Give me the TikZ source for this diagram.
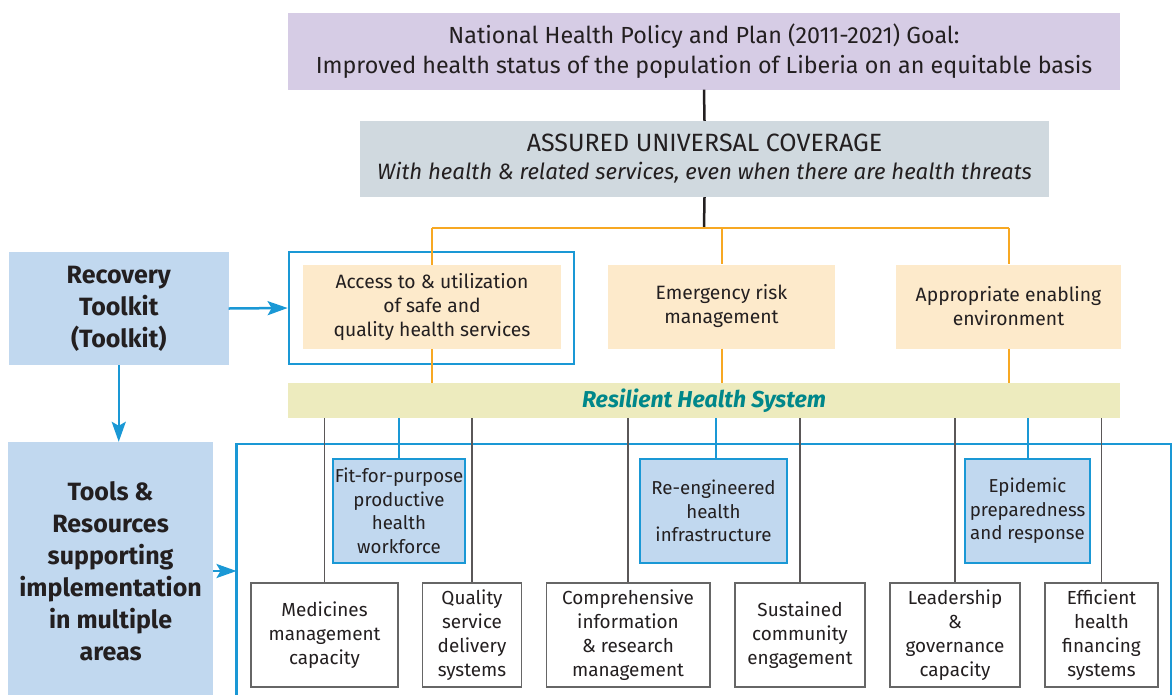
\documentclass[tikz,border=0pt]{standalone}
\usepackage{fontspec}
\setmainfont{Fira Sans}
\usepackage{tikz}
\usetikzlibrary{arrows.meta}
\definecolor{goalpurple}{HTML}{D6CCE5}
\definecolor{covergray}{HTML}{D0D9DF}
\definecolor{areaorange}{HTML}{FDEACB}
\definecolor{barolive}{HTML}{EDEBBE}
\definecolor{toolblue}{HTML}{C1D8EF}
\definecolor{lineblue}{HTML}{1A98D5}
\definecolor{lineorange}{HTML}{F7A823}
\definecolor{resteal}{HTML}{00878A}
\definecolor{inktext}{HTML}{231F20}
\definecolor{boxgray}{HTML}{666666}
\tikzset{
  base/.style={inner sep=0pt, align=center, text=inktext},
  goalbox/.style={base, fill=goalpurple, minimum width=832pt, minimum height=77pt, font=\fontsize{23.3}{30}\selectfont},
  coverbox/.style={base, fill=covergray, minimum width=689pt, minimum height=76pt, font=\fontsize{22.2}{28}\selectfont},
  areabox/.style={base, fill=areaorange, minimum height=84pt, font=\fontsize{19.3}{24}\selectfont},
  resbar/.style={base, fill=barolive, minimum width=832pt, minimum height=35pt, text=resteal, font=\fontsize{23}{24}\selectfont\bfseries\itshape},
  toolbox/.style={base, fill=toolblue, font=\fontsize{25}{32}\selectfont\bfseries},
  pillarbox/.style={base, fill=toolblue, draw=lineblue, line width=1.5pt, minimum height=104pt, font=\fontsize{18.7}{23.5}\selectfont},
  whitebox/.style={base, fill=white, draw=boxgray, line width=1.5pt, minimum height=104pt, font=\fontsize{18.9}{24}\selectfont},
  blackline/.style={draw=inktext, line width=2.5pt},
  orangeline/.style={draw=lineorange, line width=2pt},
  grayline/.style={draw=inktext!75, line width=1.7pt},
  blueline/.style={draw=lineblue, line width=2pt},
  bluearrow/.style={draw=lineblue, line width=2.5pt, -{Stealth[length=20pt,width=14pt,inset=4pt]}},
  blueframe/.style={draw=lineblue, line width=2.7pt}
}
\begin{document}
\begin{tikzpicture}[x=1pt,y=-1pt]
  \useasboundingbox (0,0) rectangle (1172,694);
  \clip (0,0) rectangle (1172,694);

  % goal and coverage
  \node[goalbox] (goal) at (704,51) {National Health Policy and Plan (2011-2021) Goal:\\Improved health status of the population of Liberia on an equitable basis};
  \node[coverbox] (cover) at (704.5,159) {{\fontsize{25}{28}\selectfont ASSURED UNIVERSAL COVERAGE}\\\textit{With health \& related services, even when there are health threats}};

  % three areas
  \node[areabox, minimum width=258pt] (access) at (432,307) {Access to \& utilization\\of safe and\\quality health services};
  \node[draw=lineblue, line width=2.7pt, minimum width=285pt, minimum height=112pt, inner sep=0pt] (accframe) at (431.5,308) {};
  \node[areabox, minimum width=227pt] (emerg) at (721.5,306.5) {Emergency risk\\management};
  \node[areabox, minimum width=225pt] (enabl) at (1008.5,306.5) {Appropriate enabling\\environment};
  \node[resbar] (resil) at (704,400.5) {Resilient Health System};

  \coordinate (junc) at (704,228);
  \draw[blackline] (goal.south) -- (cover.north);
  \draw[blackline] (cover.south) -- (junc);
  \draw[orangeline] (access.north |- junc) -- (enabl.north |- junc);
  \foreach \a in {access,emerg,enabl}{
    \draw[orangeline] (\a.north |- junc) -- (\a.north);
    \draw[orangeline] (\a.south) -- (\a.south |- resil.north);
  }

  % left side
  \node[toolbox, minimum width=219.5pt, minimum height=113pt] (recov) at (118.75,308.5) {Recovery\\Toolkit\\(Toolkit)};
  \node[toolbox, minimum width=204.5pt, minimum height=258pt] (tools) at (110.6,571) {Tools \&\\Resources\\supporting\\implementation\\in multiple\\areas};

  % big frame
  \coordinate (frtl) at (236.5,444);
  \draw[blueframe] (236.5,700) -- (frtl) -- (1171,444) -- (1171,700);

  \draw[bluearrow] (recov.east) -- (accframe.west);
  \draw[bluearrow] (recov.south) -- (recov.south |- tools.north);
  \draw[bluearrow] (tools.east) -- (tools.east -| frtl);

  % building blocks
  \node[pillarbox, minimum width=132pt] (workf) at (399,511) {Fit-for-purpose\\productive\\health\\workforce};
  \node[pillarbox, minimum width=147pt] (infra) at (713.5,511) {Re-engineered\\health\\infrastructure};
  \node[pillarbox, minimum width=125pt] (epid) at (1027.5,511) {Epidemic\\preparedness\\and response};

  \node[whitebox, minimum width=147pt] (medic) at (324.5,635) {Medicines\\management\\capacity};
  \node[whitebox, minimum width=98.6pt] (qual) at (472,635) {Quality\\service\\delivery\\systems};
  \node[whitebox, minimum width=163.5pt] (info) at (628,635) {Comprehensive\\information\\\& research\\management};
  \node[whitebox, minimum width=130pt] (comm) at (800,635) {Sustained\\community\\engagement};
  \node[whitebox, minimum width=130pt] (lead) at (955,635) {Leadership\\\&\\governance\\capacity};
  \node[whitebox, minimum width=113pt] (finan) at (1101.5,635) {Efficient\\health\\financing\\systems};

  \foreach \b in {medic,qual,info,comm,lead,finan}
    \draw[grayline] (\b.north |- resil.south) -- (\b.north);
  \foreach \p/\x in {workf/399,infra/715.5,epid/1028}
    \draw[blueline] (\x,418) -- (\x,459);
\end{tikzpicture}
\end{document}
